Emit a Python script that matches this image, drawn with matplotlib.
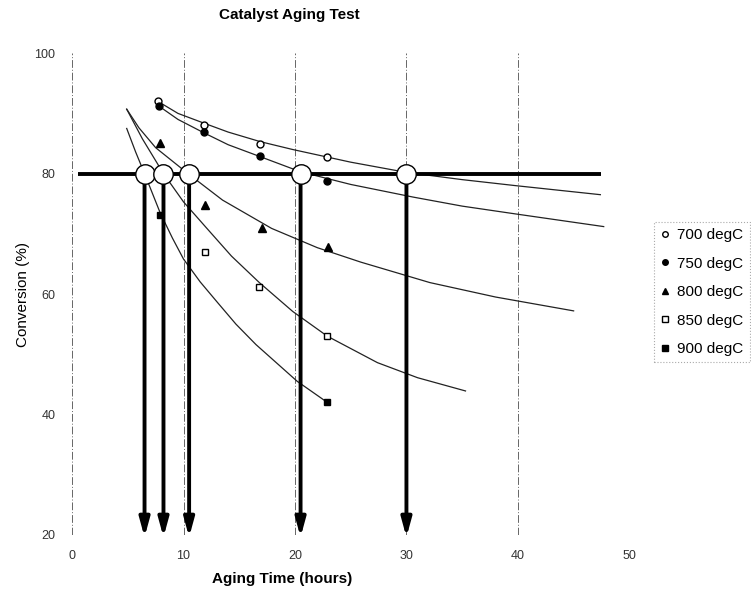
import matplotlib
matplotlib.use("Agg")
import matplotlib.pyplot as plt
from matplotlib.lines import Line2D

plt.rcParams['font.family'] = ['Liberation Sans', 'DejaVu Sans']

# measured points (hours, conversion %)
hours_700 = [7.7, 11.8, 16.9, 22.9]
conv_700 = [92.0, 88.1, 84.9, 82.8]
hours_750 = [7.8, 11.8, 16.9, 22.9]
conv_750 = [91.2, 86.9, 83.0, 78.8]
hours_800 = [7.9, 11.9, 17.0, 23.0]
conv_800 = [85.1, 74.8, 70.9, 67.8]
hours_850 = [11.9, 16.8, 22.9]
conv_850 = [66.9, 61.1, 53.0]
hours_900 = [7.9, 22.9]
conv_900 = [73.2, 42.0]

# trend curves
trend_700_x = [7.7, 9.5, 11.8, 14.0, 16.9, 19.8, 25.0, 30.0, 35.0, 39.8, 47.4]
trend_700_y = [92.0, 90.0, 88.4, 86.9, 85.3, 84.0, 81.9, 80.2, 79.0, 78.0, 76.5]
trend_750_x = [7.8, 9.5, 11.8, 14.0, 16.9, 20.5, 25.0, 30.6, 35.0, 39.8, 47.7]
trend_750_y = [91.2, 89.0, 86.8, 84.8, 82.8, 80.3, 78.2, 76.1, 74.6, 73.3, 71.2]
trend_800_x = [4.9, 6.0, 7.5, 10.4, 13.5, 17.9, 22.0, 25.9, 32.1, 38.0, 45.0]
trend_800_y = [90.7, 87.6, 84.3, 80.0, 75.6, 70.9, 67.7, 65.3, 61.9, 59.5, 57.2]
trend_850_x = [4.9, 6.3, 8.2, 10.0, 12.0, 14.3, 16.8, 19.8, 22.9, 27.4, 31.0, 35.3]
trend_850_y = [90.7, 85.8, 80.0, 75.3, 71.1, 66.3, 61.9, 57.1, 53.0, 48.6, 46.1, 43.9]
trend_900_x = [4.9, 5.7, 6.5, 7.9, 9.0, 10.0, 11.5, 13.0, 14.7, 16.5, 20.2, 22.9]
trend_900_y = [87.5, 83.6, 80.0, 73.5, 69.3, 65.8, 62.0, 58.7, 55.0, 51.6, 45.5, 42.0]

target = 80
cross_hours = [6.5, 8.2, 10.5, 20.5, 30.0]
target_line_x = [0.5, 47.5]

xticks = [0, 10, 20, 30, 40, 50]
yticks = [20, 40, 60, 80, 100]

fig = plt.figure(figsize=(7.51, 5.91), dpi=100)
ax = fig.add_axes([0.096, 0.095, 0.742, 0.815])

# dash-dot vertical grid, Excel style
for xv in [0, 10, 20, 30, 40]:
    ax.plot([xv, xv], [20, 100], color='#666666', lw=0.7,
            linestyle=(0, (8, 2, 1, 2)), zorder=1)
ax.plot([30, 45], [20, 20], color='#aaaaaa', lw=0.6, linestyle=(0, (2, 6)), zorder=1)

# trend curves
for tx, ty in [(trend_700_x, trend_700_y), (trend_750_x, trend_750_y),
               (trend_800_x, trend_800_y), (trend_850_x, trend_850_y),
               (trend_900_x, trend_900_y)]:
    ax.plot(tx, ty, color='#222222', lw=0.9, zorder=2)

# 80% target line
ax.plot(target_line_x, [target, target], color='black', lw=2.8, zorder=3,
        solid_capstyle='butt')

# arrows down to the time axis
for xh in cross_hours:
    ax.annotate('', xy=(xh, 19.6), xytext=(xh, target),
                arrowprops=dict(arrowstyle='-|>,head_length=1.1,head_width=0.3',
                                lw=2.8, color='black', shrinkA=0, shrinkB=0),
                annotation_clip=False, zorder=4)

ax.plot(cross_hours, [target] * len(cross_hours), 'o', ms=14,
        mfc='white', mec='black', mew=1.0, zorder=5)

# data markers
ms = 5
ax.plot(hours_700, conv_700, 'o', ms=ms, mfc='white', mec='black', mew=1.0, zorder=6)
ax.plot(hours_750, conv_750, 'o', ms=ms, color='black', zorder=6)
ax.plot(hours_800, conv_800, '^', ms=ms + 1, color='black', zorder=6)
ax.plot(hours_850, conv_850, 's', ms=ms, mfc='white', mec='black', mew=1.0, zorder=6)
ax.plot(hours_900, conv_900, 's', ms=ms, color='black', zorder=6)

ax.set_xlim(0, 50)
ax.set_ylim(20, 100)
ax.set_xticks(xticks)
ax.set_yticks(yticks)
ax.tick_params(length=0, labelsize=9, labelcolor='#333333')
ax.tick_params(axis='x', pad=11)
ax.tick_params(axis='y', pad=12)
for s in ax.spines.values():
    s.set_visible(False)

ax.set_ylabel('Conversion (%)', fontsize=11, labelpad=3)
fig.text(0.375, 0.008, 'Aging Time (hours)', ha='center', va='bottom',
         fontsize=11, fontweight='bold')
fig.text(0.385, 0.974, 'Catalyst Aging Test', ha='center', va='center',
         fontsize=11, fontweight='bold')

handles = [
    Line2D([], [], ls='', marker='o', ms=4, mfc='white', mec='black'),
    Line2D([], [], ls='', marker='o', ms=4, color='black'),
    Line2D([], [], ls='', marker='^', ms=5, color='black'),
    Line2D([], [], ls='', marker='s', ms=4, mfc='white', mec='black'),
    Line2D([], [], ls='', marker='s', ms=4, color='black'),
]
labels = ['700 degC', '750 degC', '800 degC', '850 degC', '900 degC']
leg = fig.legend(handles, labels, loc='upper left', bbox_to_anchor=(0.861, 0.637),
                 fontsize=11, handlelength=0.6, handletextpad=0.5,
                 labelspacing=0.95, borderpad=0.4, fancybox=False, framealpha=1)
leg.get_frame().set_edgecolor('#aaaaaa')
leg.get_frame().set_linestyle(':')
leg.get_frame().set_linewidth(0.8)

fig.savefig('out.png', dpi=100)
